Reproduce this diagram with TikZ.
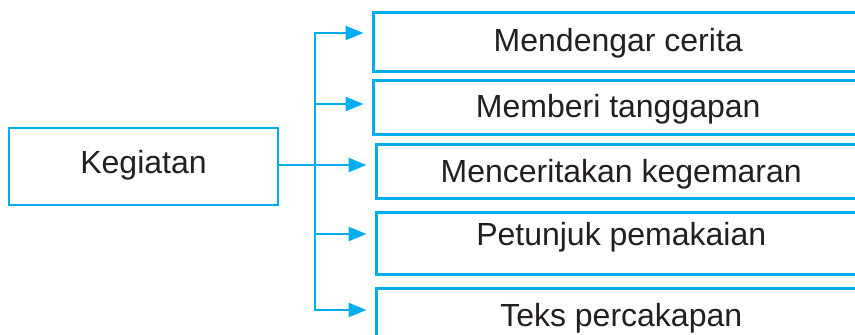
\documentclass[tikz,border=0pt]{standalone}
\usepackage{fontspec}
\setmainfont{Liberation Sans}
\usetikzlibrary{arrows.meta}
\definecolor{kblue}{HTML}{00AEEF}
\definecolor{ktext}{HTML}{231F20}

\begin{document}
\begin{tikzpicture}[x=1pt,y=-1pt,
  box/.style={draw=kblue,line width=2.5pt,text=ktext,inner sep=0pt,
    font=\fontsize{32}{36}\selectfont,text height=23pt},
  entry/.style={box,anchor=north west,minimum width=490pt},
  link/.style={draw=kblue,line width=2.5pt},
  arr/.style={link,-{Triangle[length=18pt,width=14pt]},shorten >=8.5pt}]
\path[use as bounding box,clip] (0,0) rectangle (855,335);

 \node[box,minimum width=269pt,minimum height=77pt,text depth=10pt] (keg) at (143.5,166.5) {Kegiatan};

 \node[entry,minimum height=59pt,text depth=4pt] (b1) at (372,11) {Mendengar cerita};
 \node[entry,minimum height=54pt,text depth=2pt] (b2) at (372,79) {Memberi tanggapan};
 \node[entry,minimum height=54pt,text depth=0pt] (b3) at (375,143) {Menceritakan kegemaran};
 \node[entry,minimum height=62pt,text depth=18pt] (b4) at (375,211) {Petunjuk pemakaian};
 \node[entry,minimum height=58pt,text depth=5pt] (b5) at (375,287) {Teks percakapan};

 \coordinate (j1) at (315,33);
 \coordinate (j2) at (315,104);
 \coordinate (j3) at (315,165);
 \coordinate (j4) at (315,234);
 \coordinate (j5) at (315,310);

 \draw[link,line cap=rect] (j1)--(j5);
 \draw[link] (keg.east |- j3)--(j3);
 \foreach \i in {1,...,5}
   \draw[arr] (j\i)--(j\i -| b\i.west);
\end{tikzpicture}
\end{document}
